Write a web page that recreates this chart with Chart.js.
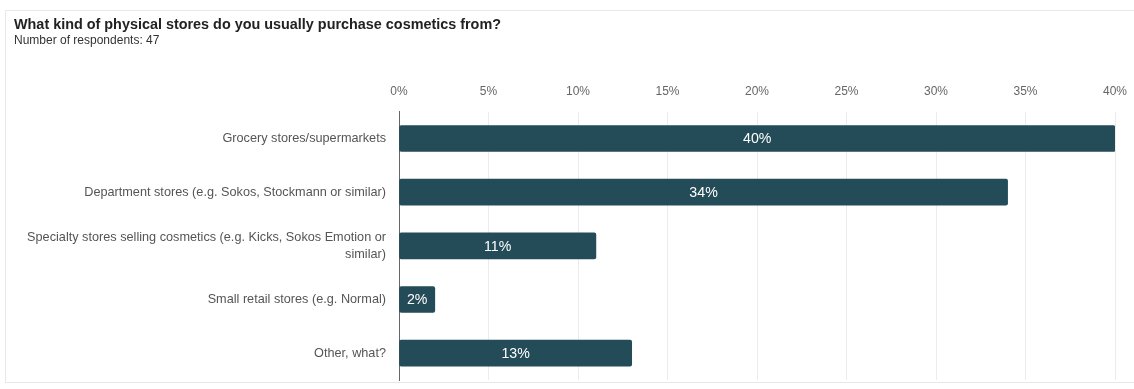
<!DOCTYPE html>
<html>
<head>
<meta charset="utf-8">
<script src="https://cdn.jsdelivr.net/npm/chart.js@4/dist/chart.umd.min.js"></script>
<style>
  html, body { margin: 0; padding: 0; background: #fff; overflow: hidden; }
  #frame {
    position: absolute; left: 5px; top: 10px;
    width: 1128px; height: 371px;
    border: 1px solid #e8e8e8;
  }
</style>
</head>
<body>
<div id="frame"><canvas id="chart"></canvas></div>
<script>
const categories = [
  'Grocery stores/supermarkets',
  'Department stores (e.g. Sokos, Stockmann or similar)',
  ['Specialty stores selling cosmetics (e.g. Kicks, Sokos Emotion or', 'similar)'],
  'Small retail stores (e.g. Normal)',
  'Other, what?'
];
const shares = [40, 34, 11, 2, 13];
const xTicks = [0, 5, 10, 15, 20, 25, 30, 35, 40];

const barColor = '#244b58';
const fontFamily = '"Liberation Sans", Arial, sans-serif';

// white percentage text in the middle of each bar
const barLabels = {
  id: 'barLabels',
  afterDatasetsDraw(chart) {
    const ctx = chart.ctx;
    const meta = chart.getDatasetMeta(0);
    ctx.save();
    ctx.fillStyle = '#fff';
    ctx.font = '14.2px ' + fontFamily;
    ctx.textAlign = 'center';
    ctx.textBaseline = 'middle';
    meta.data.forEach((bar, i) => {
      const cx = (bar.x + bar.base) / 2;
      ctx.fillText(shares[i] + '%', cx, bar.y + 1);
    });
    ctx.restore();
  }
};

new Chart(document.getElementById('chart'), {
  type: 'bar',
  data: {
    labels: categories,
    datasets: [{
      data: shares,
      backgroundColor: barColor,
      borderRadius: 2,
      borderSkipped: false,
      barThickness: 26
    }]
  },
  options: {
    indexAxis: 'y',
    responsive: true,
    maintainAspectRatio: false,
    animation: false,
    layout: { padding: { left: 8, right: 19, top: 0, bottom: 2 } },
    plugins: {
      legend: { display: false },
      tooltip: { enabled: false },
      title: {
        display: true,
        align: 'start',
        text: 'What kind of physical stores do you usually purchase cosmetics from?',
        color: '#222',
        font: { family: fontFamily, size: 14.4, weight: 'bold', lineHeight: 1.2 },
        padding: { top: 5, bottom: 0 }
      },
      subtitle: {
        display: true,
        align: 'start',
        text: 'Number of respondents: 47',
        color: '#333',
        font: { family: fontFamily, size: 12, lineHeight: 1.2 },
        padding: { top: 0, bottom: 0 }
      }
    },
    scales: {
      x: {
        position: 'top',
        min: 0,
        max: 40,
        afterBuildTicks(scale) {
          scale.ticks = xTicks.map(v => ({ value: v }));
        },
        afterFit(scale) {
          scale.height = 64;
          scale.paddingLeft = 0;
          scale.paddingRight = 0;
        },
        grid: { color: '#ececec', drawTicks: false },
        border: { display: false },
        ticks: {
          padding: 13,
          color: '#666',
          font: { family: fontFamily, size: 12 },
          callback: v => v + '%'
        }
      },
      y: {
        afterFit(scale) {
          scale.width = 385;
          // keep the category band flush with the plot edges
          scale.paddingTop = 0;
          scale.paddingBottom = 0;
        },
        grid: { display: false, drawTicks: false },
        border: { display: true, color: '#666', width: 1 },
        ticks: {
          padding: 13,
          color: '#555',
          font: { family: fontFamily, size: 12.7, lineHeight: 1.3 }
        }
      }
    }
  },
  plugins: [barLabels]
});
</script>
</body>
</html>
